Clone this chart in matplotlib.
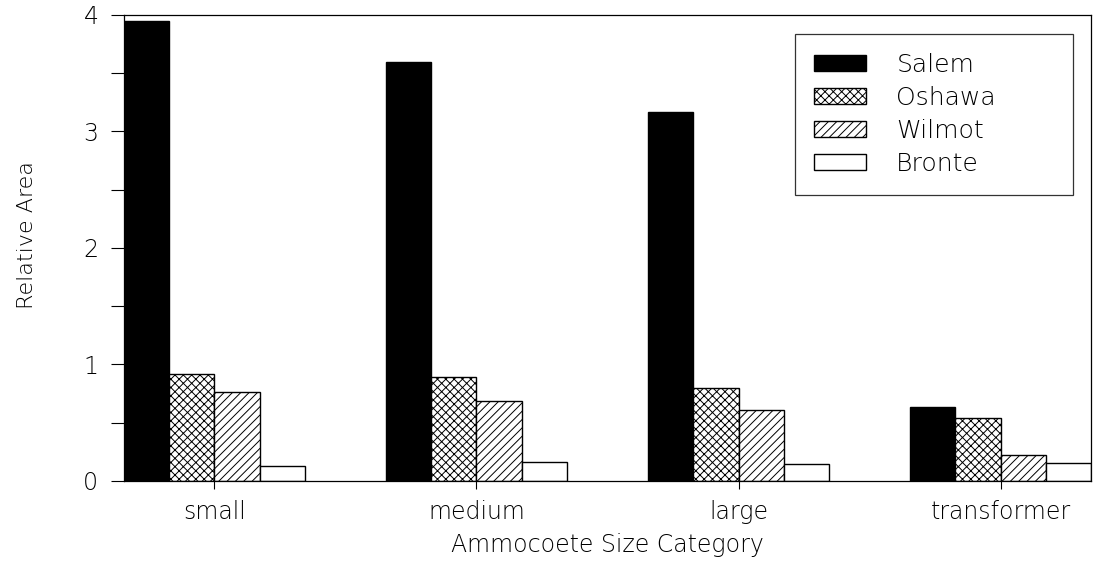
import numpy as np
import matplotlib
matplotlib.use("Agg")
import matplotlib.pyplot as plt
from matplotlib.ticker import MultipleLocator

# values
categories = ["small", "medium", "large", "transformer"]
sites = ["Salem", "Oshawa", "Wilmot", "Bronte"]
salem = [3.95, 3.60, 3.165, 0.63]
oshawa = [0.915, 0.89, 0.80, 0.54]
wilmot = [0.76, 0.685, 0.61, 0.22]
bronte = [0.13, 0.16, 0.14, 0.15]

series = [salem, oshawa, wilmot, bronte]
fills = ["black", "white", "white", "white"]
hatches = [None, "xxxx", "////", None]

plt.rcParams["hatch.linewidth"] = 0.7
plt.rcParams["font.family"] = ["DejaVu Sans"]
plt.rcParams["font.weight"] = "light"  # thin strokes like the scan
plt.rcParams["axes.labelweight"] = "light"

fig = plt.figure(figsize=(11.1, 5.61), dpi=100)
ax = fig.add_axes([0.1117, 0.1431, 0.9829 - 0.1117, 0.9733 - 0.1431])

x = np.arange(len(categories))
w = 0.1725
for i, (vals, name) in enumerate(zip(series, sites)):
    ax.bar(x + (i - 1.5) * w, vals, width=w, color=fills[i],
           edgecolor="black", linewidth=1.0, hatch=hatches[i], label=name)

ax.set_xlim(-2 * w, len(categories) - 1 + 2 * w)
ax.set_ylim(0, 4)
ax.set_xticks(x)
ax.set_xticklabels(categories, fontsize=17)
ax.yaxis.set_major_locator(MultipleLocator(1))
ax.yaxis.set_minor_locator(MultipleLocator(0.5))
ax.tick_params(axis="y", which="both", direction="out", length=9.4,
               width=0.8, labelsize=17, pad=9)
ax.tick_params(axis="x", direction="out", length=6, width=0.8, pad=8)

for sp in ax.spines.values():
    sp.set_linewidth(0.9)

ax.set_xlabel("Ammocoete Size Category", fontsize=17, va="center")
ax.xaxis.set_label_coords(0.5, -0.138)
ax.set_ylabel("Relative Area", fontsize=16, va="center")
ax.yaxis.set_label_coords(-0.1003, 0.528)

# legend frame spans the same box as the reference (expand mode)
leg = ax.legend(loc="upper left", bbox_to_anchor=(0.694, 0.5, 0.2875, 0.459),
                mode="expand", fontsize=18, frameon=True, fancybox=False,
                edgecolor="black", handlelength=2.1, handleheight=0.6,
                handletextpad=1.2, labelspacing=0.36, borderpad=0.75,
                borderaxespad=0)
leg.get_frame().set_linewidth(0.9)

fig.savefig("out.png", dpi=100)
